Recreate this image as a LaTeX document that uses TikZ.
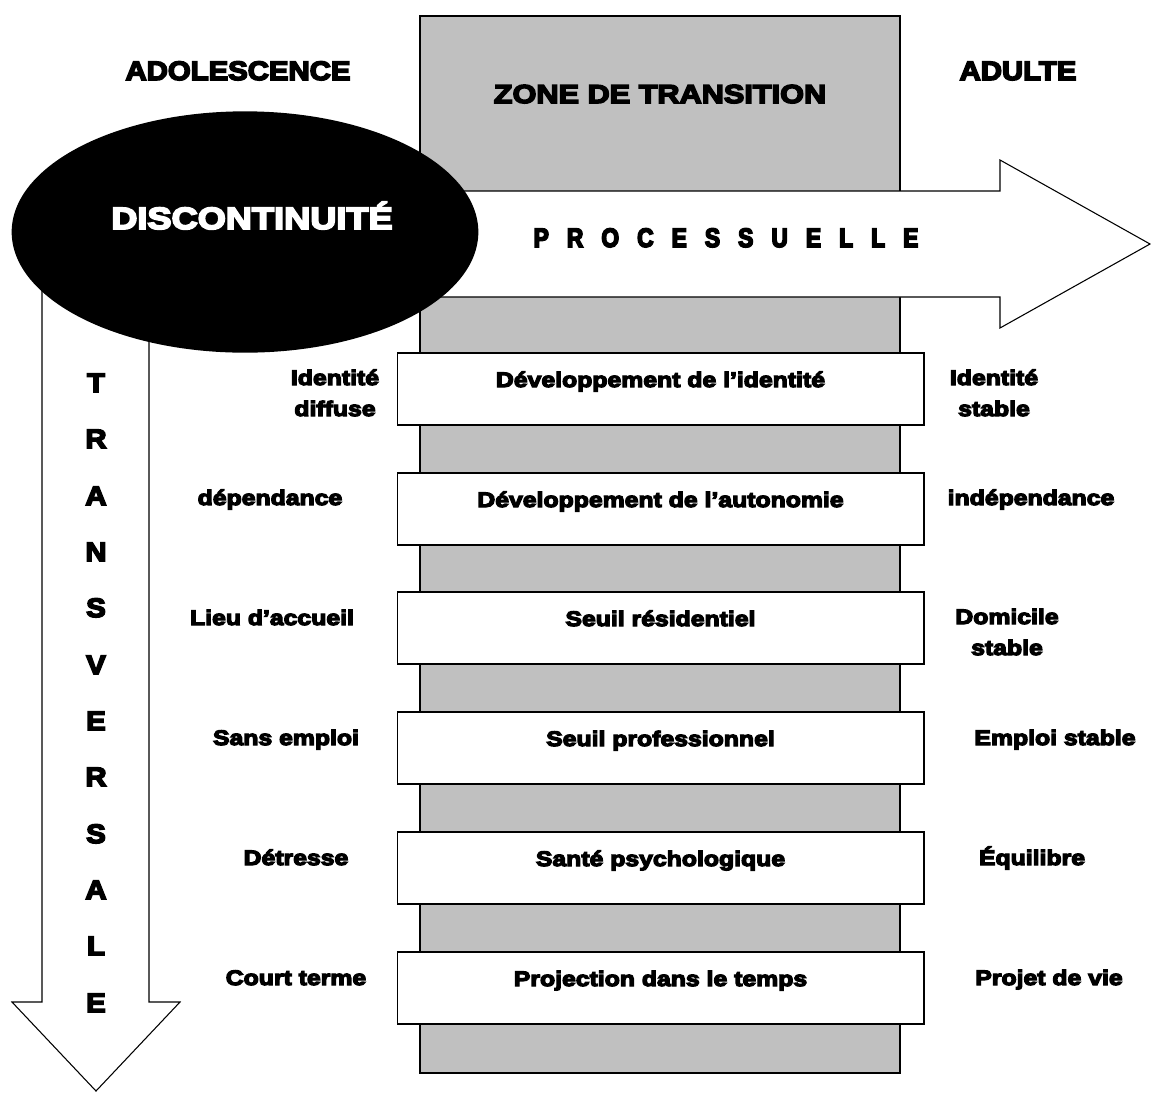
\documentclass[tikz,border=0pt]{standalone}
\usepackage{fontspec}
\setmainfont{Liberation Sans}
\newfontfamily\heavy{Liberation Sans Bold}[FakeBold=6,FakeStretch=1.1]
\newfontfamily\heavywide{Liberation Sans Bold}[FakeBold=6,FakeStretch=1.18]
\newfontfamily\heavynarrow{Liberation Sans Bold}[FakeBold=6,FakeStretch=0.85]
\usetikzlibrary{shapes.geometric}
\definecolor{zonegrey}{RGB}{192,192,192}

\begin{document}
\begin{tikzpicture}[x=0.75pt,y=-0.75pt,
    stage/.style ={rectangle, draw, line width=1pt, fill=white, inner sep=0pt,
                   minimum width=395pt, text height=25.5pt, text depth=28.5pt,
                   font=\heavywide\fontsize{15.75}{18}\selectfont},
    side/.style ={anchor=base, align=center, inner sep=0pt,
                  font=\heavywide\fontsize{15.75}{23.25}\selectfont},
    title/.style ={anchor=base, inner sep=0pt, font=\heavy\fontsize{20}{24}\selectfont},
    letter/.style ={anchor=base, inner sep=0pt, font=\heavy\fontsize{20}{24}\selectfont}]
   \useasboundingbox (0,0) rectangle (1151,1093);

   \draw[fill=zonegrey, line width=0.9pt] (420,16) rectangle (900,1073);

   \draw[fill=white, line width=0.8pt] (380,191) -- (1000,191) -- (1000,160) -- (1150,244)
        -- (1000,328) -- (1000,297) -- (380,297) -- cycle;
   \draw[fill=white, line width=0.8pt] (42,250) -- (42,1002) -- (12,1002) -- (96,1091)
        -- (180,1002) -- (149,1002) -- (149,250) -- cycle;

   \node[ellipse, fill=black, inner sep=0pt, minimum width=350pt, minimum height=181pt] (disc) at (245,232) {};

   \node[title] (adolescence) at (238,80) {ADOLESCENCE};
   \node[title] (adulte) at (1018,80) {ADULTE};
   \node[title, font=\heavywide\fontsize{19.5}{24}\selectfont] (zone) at (660,103) {ZONE DE TRANSITION};
   \node[title, text=white, font=\heavywide\fontsize{23}{26}\selectfont] (disclabel) at (252,229) {DISCONTINUITÉ};
   \node[anchor=base, inner sep=0pt, font=\heavynarrow\fontsize{20}{24}\selectfont] (proc) at (726,247)
        {\spaceskip=13.6pt P R O C E S S U E L L E};

   \node[letter] (t1) at (96,392) {T};
   \node[letter] (t2) at (96,448) {R};
   \node[letter] (t3) at (96,505) {A};
   \node[letter] (t4) at (96,561) {N};
   \node[letter] (t5) at (96,617) {S};
   \node[letter] (t6) at (96,674) {V};
   \node[letter] (t7) at (96,730) {E};
   \node[letter] (t8) at (96,786) {R};
   \node[letter] (t9) at (96,843) {S};
   \node[letter] (t10) at (96,899) {A};
   \node[letter] (t11) at (96,955) {L};
   \node[letter] (t12) at (96,1012) {E};

   \node[stage] (identite) at (660.5,389) {Développement de l’identité};
   \node[stage] (autonomie) at (660.5,509) {Développement de l’autonomie};
   \node[stage] (residentiel) at (660.5,628) {Seuil résidentiel};
   \node[stage] (professionnel) at (660.5,748) {Seuil professionnel};
   \node[stage] (sante) at (660.5,868) {Santé psychologique};
   \node[stage] (projection) at (660.5,988) {Projection dans le temps};

   \node[side] (diffuse) at (335,416) {Identité\\diffuse};
   \node[side] (dependance) at (270,505) {dépendance};
   \node[side] (accueil) at (272,625) {Lieu d’accueil};
   \node[side] (sansemploi) at (286,745) {Sans emploi};
   \node[side] (detresse) at (296,865) {Détresse};
   \node[side] (court) at (296,985) {Court terme};

   \node[side] (stableid) at (994,416) {Identité\\stable};
   \node[side] (independance) at (1031,505) {indépendance};
   \node[side] (domicile) at (1007,655) {Domicile\\stable};
   \node[side] (emploi) at (1055,745) {Emploi stable};
   \node[side] (equilibre) at (1032,865) {Équilibre};
   \node[side] (projet) at (1049,985) {Projet de vie};
 \end{tikzpicture}
\end{document}
